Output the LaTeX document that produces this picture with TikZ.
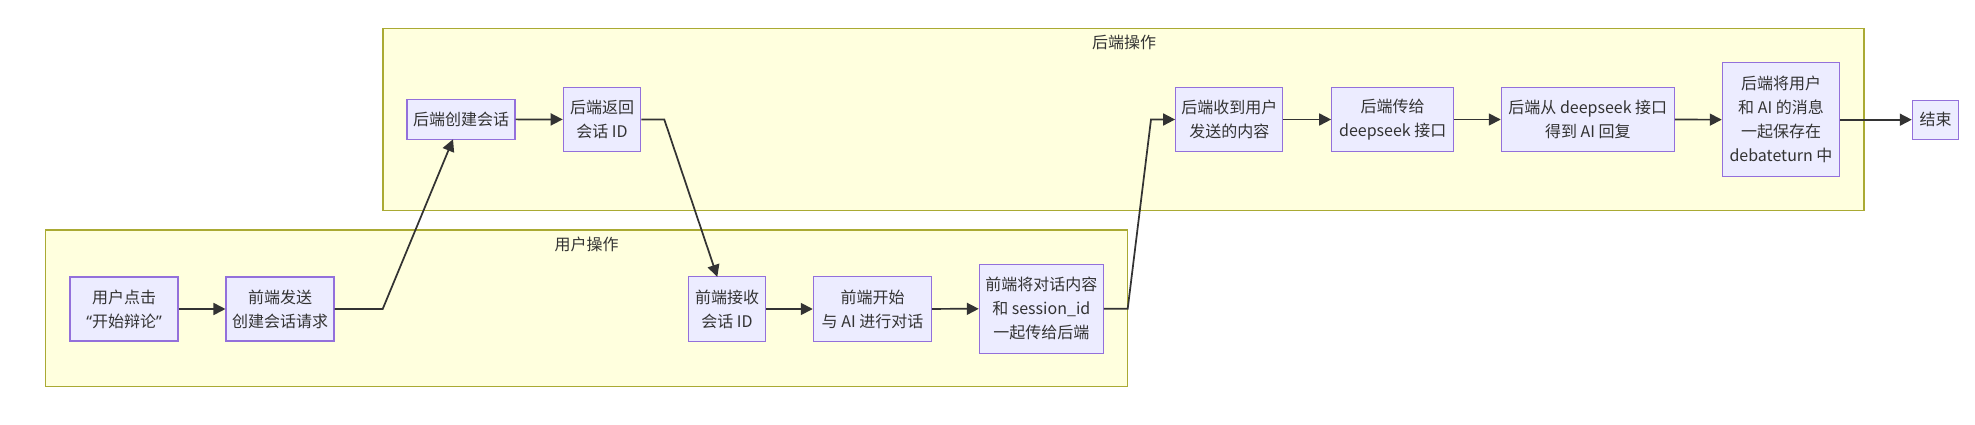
\documentclass[tikz,border=0pt]{standalone}
\usepackage{fontspec}
\setmainfont{Noto Sans CJK SC}
\newfontfamily\latq{Noto Sans}
\usetikzlibrary{arrows.meta}
\definecolor{nodefill}{HTML}{ECECFF}
\definecolor{nodedraw}{HTML}{9370DB}
\definecolor{clfill}{HTML}{FFFFDE}
\definecolor{cldraw}{HTML}{AAAA33}
\definecolor{txt}{HTML}{333333}
\definecolor{edgec}{HTML}{333333}
\tikzset{
  box/.style 2 args={draw=nodedraw, fill=nodefill, line width=0.8pt, text=txt,
    align=center, inner sep=0pt, font=\fontsize{12}{18}\selectfont,
    minimum width=#1*0.75pt, minimum height=#2*0.75pt},
  cluster/.style 2 args={draw=cldraw, fill=clfill, line width=0.8pt, inner sep=0pt,
    minimum width=#1*0.75pt, minimum height=#2*0.75pt},
  cltitle/.style={text=txt, inner sep=0pt, font=\fontsize{12}{18}\selectfont},
  arr/.style={draw=edgec, line width=1.3pt, -{Triangle[length=9pt,width=9pt]}}
}
\begin{document}
\begin{tikzpicture}[x=0.75pt,y=-0.75pt]
\useasboundingbox (0,0) rectangle (1975,425);
% clusters
\node[cluster={1481}{182}] (cb) at (1123.5,119.6) {};
\node[cltitle] (cbt) at (1124,42) {后端操作};
\node[cluster={1082}{156.7}] (cu) at (586.5,308.35) {};
\node[cltitle] (cut) at (586.5,244) {用户操作};
% nodes
\node[box={108}{64}] (u1) at (124,309) {用户点击\\{\latq “}开始辩论{\latq ”}};
\node[box={108}{64}] (u2) at (280,309) {前端发送\\创建会话请求};
\node[box={108}{40}] (b1) at (461,119.3) {后端创建会话};
\node[box={77.5}{64.4}] (b2) at (602,119.5) {后端返回\\会话 ID};
\node[box={77.4}{64.3}] (u3) at (727,309) {前端接收\\会话 ID};
\node[box={118.4}{64.3}] (u4) at (872.5,309) {前端开始\\与 AI 进行对话};
\node[box={124}{89.3}] (u5) at (1041.3,308.7) {前端将对话内容\\和 session\_id\\一起传给后端};
\node[box={107.3}{64.4}] (b3) at (1229.3,119.5) {后端收到用户\\发送的内容};
\node[box={122}{64.4}] (b4) at (1392.7,119.5) {后端传给\\deepseek 接口};
\node[box={173}{64.4}] (b5) at (1587.8,119.5) {后端从 deepseek 接口\\得到 AI 回复};
\node[box={117.4}{114}] (b6) at (1781,119.7) {后端将用户\\和 AI 的消息\\一起保存在\\debateturn 中};
\node[box={46.4}{39.3}] (e) at (1935.5,119.7) {结束};
% bend points
\coordinate (k1) at (382.7,309);
\coordinate (k1t) at (453,139.3);
\coordinate (k2) at (664.3,119.5);
\coordinate (k2t) at (717.3,276.85);
\coordinate (k3) at (1127.7,308.7);
\coordinate (k3b) at (1151,119.5);
% edges
\draw[arr] (u1) -- (u2);
\draw[arr] (u2.east) -- (k1) -- (k1t);
\draw[arr] (b1) -- (b2);
\draw[arr] (b2.east) -- (k2) -- (k2t);
\draw[arr] (u3) -- (u4);
\draw[arr] (u4) -- (u5);
\draw[arr] (u5.east) -- (k3) -- (k3b) -- (b3.west);
\draw[arr] (b3) -- (b4);
\draw[arr] (b4) -- (b5);
\draw[arr] (b5) -- (b6);
\draw[arr] (b6) -- (e);
\end{tikzpicture}
\end{document}
